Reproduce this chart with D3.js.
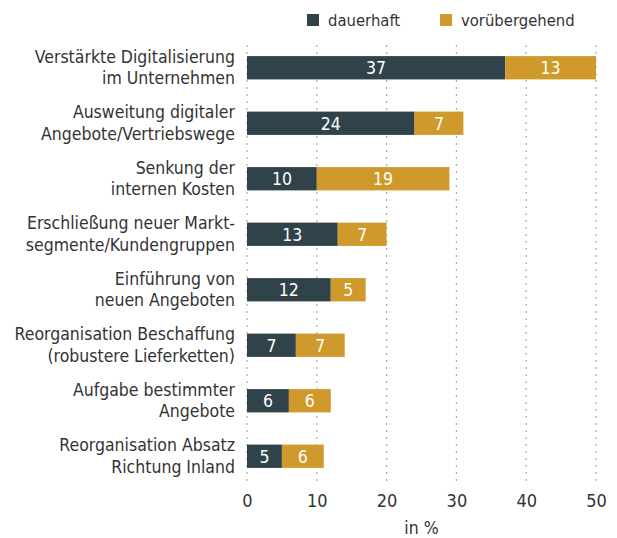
<!DOCTYPE html>
<html>
<head>
<meta charset="utf-8">
<script src="https://cdn.jsdelivr.net/npm/d3@7"></script>
<style>
  body { margin: 0; background: #fff; }
  svg text { font-family: "DejaVu Sans Condensed", "Liberation Sans Narrow", "Roboto", sans-serif; fill: #333; }
</style>
</head>
<body>
<svg id="chart" width="617" height="538"></svg>
<script>
// Kategorien (zweizeilige Beschriftung)
const categories = [
  ["Verstärkte Digitalisierung", "im Unternehmen"],
  ["Ausweitung digitaler", "Angebote/Vertriebswege"],
  ["Senkung der", "internen Kosten"],
  ["Erschließung neuer Markt-", "segmente/Kundengruppen"],
  ["Einführung von", "neuen Angeboten"],
  ["Reorganisation Beschaffung", "(robustere Lieferketten)"],
  ["Aufgabe bestimmter", "Angebote"],
  ["Reorganisation Absatz", "Richtung Inland"]
];
const dauerhaft = [37, 24, 10, 13, 12, 7, 6, 5];
const voruebergehend = [13, 7, 19, 7, 5, 7, 6, 6];
const seriesNames = ["dauerhaft", "vorübergehend"];
const xTicks = [0, 10, 20, 30, 40, 50];
const axisTitle = "in %";

const colors = ["#30434b", "#cf9a2b"];

const svg = d3.select("#chart");
const margin = { left: 247, right: 21 };
const W = 617;

const x = d3.scaleLinear().domain([0, 50]).range([margin.left, W - margin.right]);
const y = d3.scaleBand()
  .domain(d3.range(categories.length))
  .range([40, 484])
  .paddingInner(0.58)
  .paddingOuter(0.29);

// Gitterlinien
svg.append("g")
  .selectAll("line")
  .data(xTicks)
  .join("line")
  .attr("x1", d => x(d)).attr("x2", d => x(d))
  .attr("y1", 45).attr("y2", 482)
  .attr("stroke", "#aaa")
  .attr("stroke-width", 1.2)
  .attr("stroke-dasharray", "2,5");

// Achse
const axis = d3.axisBottom(x).tickValues(xTicks).tickSize(0).tickPadding(0);
const gAxis = svg.append("g").attr("transform", "translate(0,491)").call(axis);
gAxis.select(".domain").remove();
gAxis.selectAll("text")
  .attr("dy", "0.9em")
  .style("font-size", "18px")
  .style("fill", "#333")
  .style("font-family", "\"DejaVu Sans Condensed\", \"Liberation Sans Narrow\", sans-serif");

svg.append("text")
  .attr("x", x(25)).attr("y", 534)
  .attr("text-anchor", "middle")
  .style("font-size", "17.5px")
  .text(axisTitle);

// Gestapelte Balken
const rows = categories.map((c, i) => ({ i, vals: [dauerhaft[i], voruebergehend[i]] }));
const stackG = svg.append("g");
rows.forEach(r => {
  let start = 0;
  r.vals.forEach((v, k) => {
    stackG.append("rect")
      .attr("x", x(start))
      .attr("y", y(r.i))
      .attr("width", x(start + v) - x(start))
      .attr("height", y.bandwidth())
      .attr("fill", colors[k]);
    stackG.append("text")
      .attr("x", (x(start) + x(start + v)) / 2)
      .attr("y", y(r.i) + y.bandwidth() / 2)
      .attr("dy", "0.37em")
      .attr("text-anchor", "middle")
      .style("fill", "#fff")
      .style("font-size", "17.5px")
      .text(v);
    start += v;
  });
});

// Kategorienbeschriftung
const labG = svg.append("g");
categories.forEach((lines, i) => {
  const cy = y(i) + y.bandwidth() / 2;
  const t = labG.append("text")
    .attr("x", 235)
    .attr("y", cy)
    .attr("text-anchor", "end")
    .style("font-size", "17.5px");
  t.append("tspan").attr("x", 235).attr("dy", "-0.3em").text(lines[0]);
  t.append("tspan").attr("x", 235).attr("dy", "1.25em").text(lines[1]);
});

// Legende
const legendX = [307, 440];
seriesNames.forEach((n, k) => {
  svg.append("rect")
    .attr("x", legendX[k]).attr("y", 14)
    .attr("width", 12).attr("height", 12)
    .attr("fill", colors[k]);
  svg.append("text")
    .attr("x", legendX[k] + 21).attr("y", 20)
    .attr("dy", "0.36em")
    .style("font-size", "16.5px")
    .text(n);
});
</script>
</body>
</html>
